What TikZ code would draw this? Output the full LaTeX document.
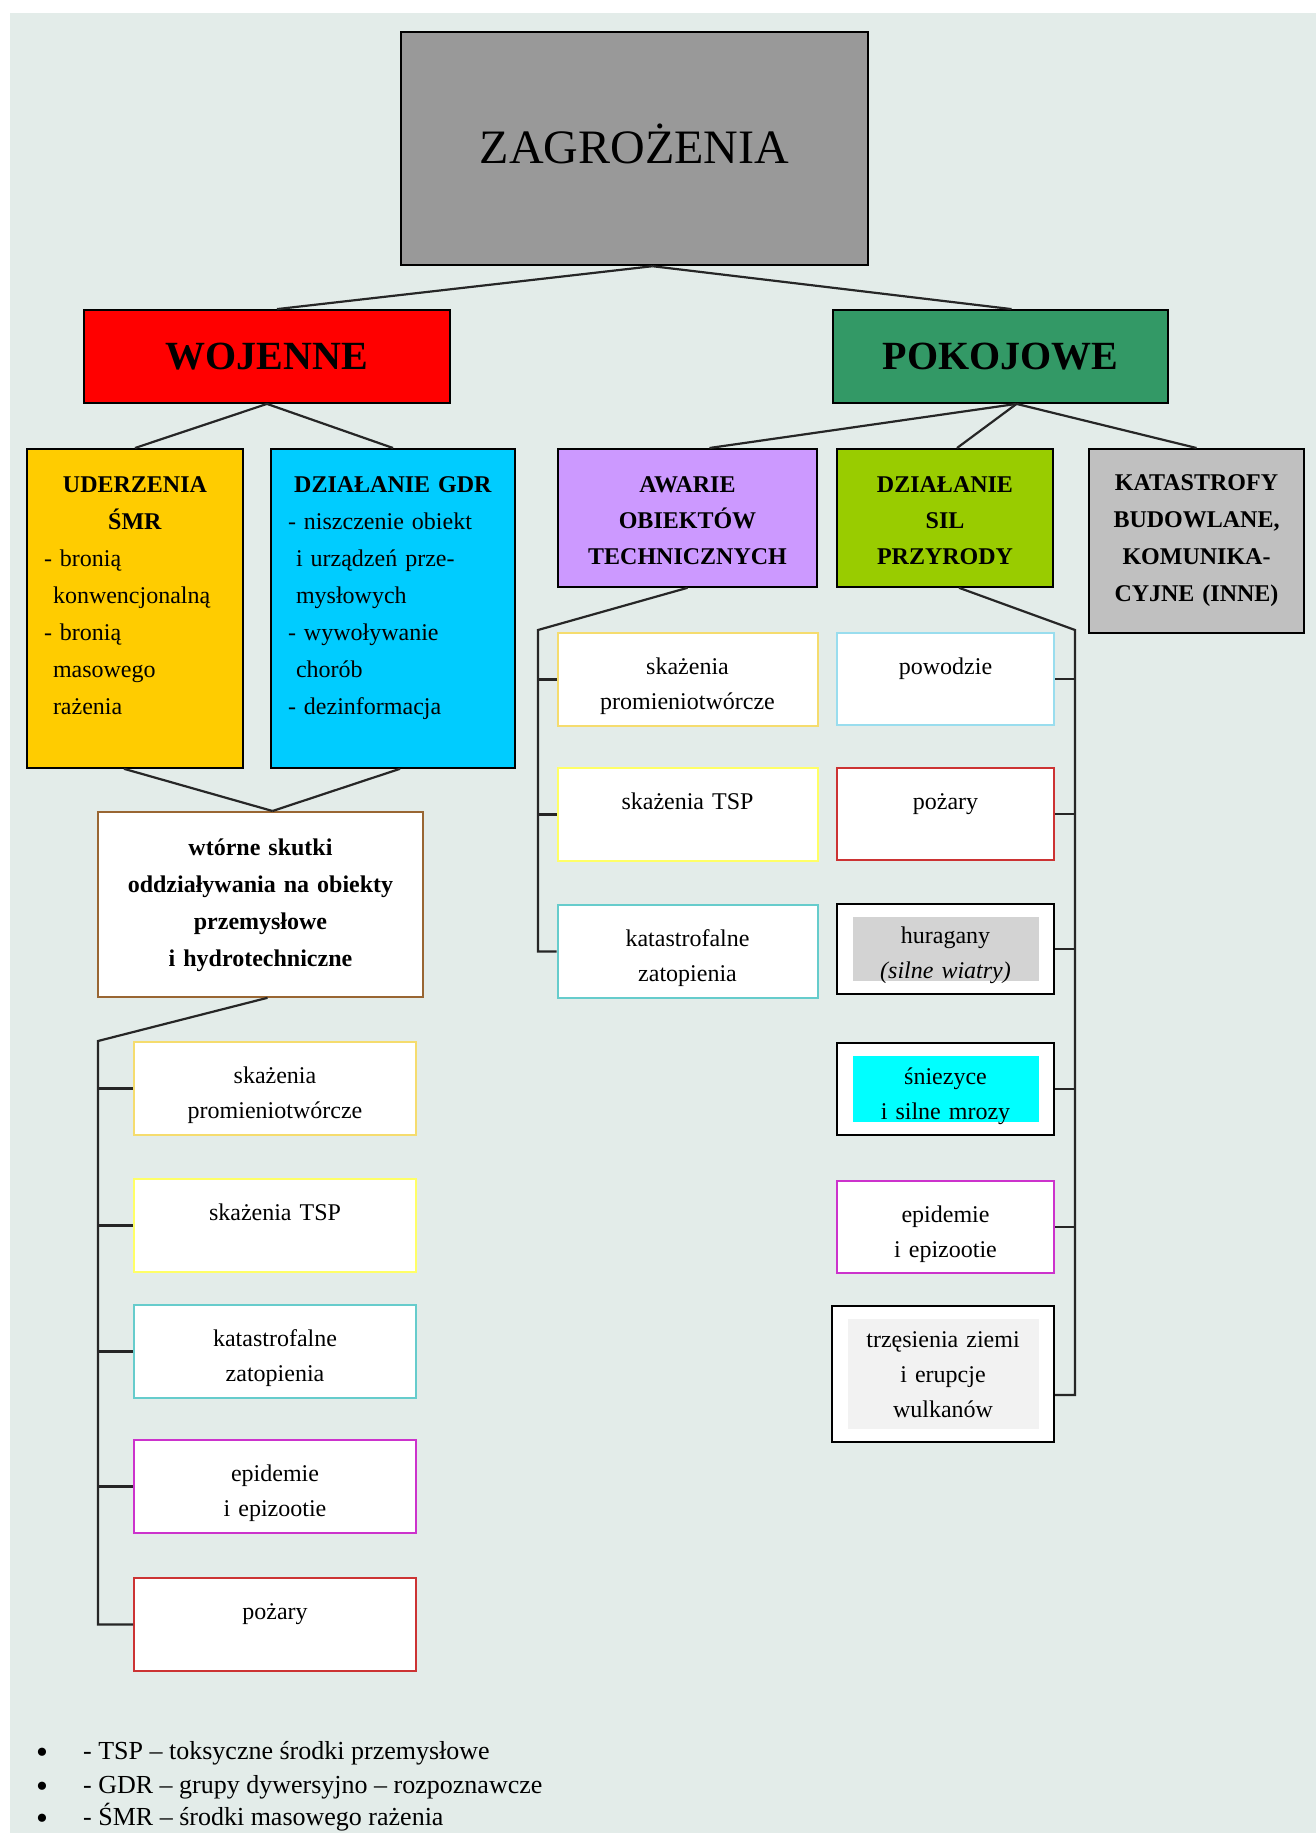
\documentclass[tikz,border=0pt]{standalone}
\usepackage{fontspec}
\setmainfont{Liberation Serif}

\definecolor{tlo}{RGB}{227,236,233}
\definecolor{zagcol}{RGB}{153,153,153}
\definecolor{pokcol}{RGB}{51,153,102}
\definecolor{smrcol}{RGB}{255,204,0}
\definecolor{gdrcol}{RGB}{0,204,255}
\definecolor{awcol}{RGB}{204,153,255}
\definecolor{silcol}{RGB}{153,204,0}
\definecolor{katcol}{RGB}{192,192,192}
\definecolor{wtcol}{RGB}{153,102,51}
\definecolor{promcol}{RGB}{245,220,110}
\definecolor{tspcol}{RGB}{255,255,102}
\definecolor{zatcol}{RGB}{102,204,204}
\definecolor{epicol}{RGB}{204,51,204}
\definecolor{pozcol}{RGB}{204,51,51}
\definecolor{powcol}{RGB}{153,221,238}
\definecolor{hurcol}{RGB}{211,211,211}
\definecolor{snicol}{RGB}{0,255,255}
\definecolor{trzcol}{RGB}{242,242,242}

\begin{document}
\begin{tikzpicture}[x=1pt, y=-1pt, align=center,
  conn/.style={draw=black!85, line width=2.2pt},
  head/.style={draw, line width=1.8pt},
  group/.style={draw, line width=1.8pt, inner sep=0pt, anchor=north, text height=44pt,
    font=\fontsize{24}{36}\selectfont\bfseries},
  leaf/.style={draw=#1, fill=white, line width=2pt, inner sep=0pt, anchor=north,
    text height=41pt, font=\fontsize{24}{35}\selectfont},
  lcol/.style={leaf=#1, minimum width=282pt, text width=262pt, text depth=52pt},
  mcol/.style={leaf=#1, minimum width=260pt, text width=240pt, text depth=52pt},
  rcol/.style={leaf=#1, minimum width=217pt, text width=197pt, text depth=51pt},
  inset/.style={path picture={\fill[#1] ([xshift=16pt,yshift=-13pt]path picture bounding box.north west)
    rectangle ([xshift=-15pt,yshift=13pt]path picture bounding box.south east);}},
  legend/.style={anchor=base west, inner sep=0pt, font=\fontsize{26}{30}\selectfont}]

\useasboundingbox (0,0) rectangle (1316,1833);
\fill[tlo] (10,13) rectangle (1316,1833);

\path (634.5,148.5) node[head, fill=zagcol, line width=2.4pt, minimum width=467pt, minimum height=233pt,
        text depth=10pt, font=\fontsize{48}{56}\selectfont] (zag) {ZAGROŻENIA}
      (267,356.5) node[head, fill=red, minimum width=366pt, minimum height=93pt,
        font=\fontsize{40}{48}\selectfont\bfseries] (woj) {WOJENNE}
      (1000.5,356.5) node[head, fill=pokcol, minimum width=335pt, minimum height=93pt,
        font=\fontsize{40}{48}\selectfont\bfseries] (pok) {POKOJOWE};

\path (135,448) node[group, fill=smrcol, minimum width=216pt, text width=182pt, text depth=275pt,
        align=left, font=\fontsize{24}{37}\selectfont] (smr)
        {{\centering\textbf{UDERZENIA}\\\textbf{ŚMR}\par}- bronią\\\hspace*{9pt}konwencjonalną\\- bronią\\
         \hspace*{9pt}masowego\\\hspace*{9pt}rażenia}
      (393,448) node[group, fill=gdrcol, minimum width=244pt, text width=210pt, text depth=275pt,
        align=left, font=\fontsize{24}{37}\selectfont] (gdr)
        {{\centering\textbf{DZIAŁANIE GDR}\par}- niszczenie obiekt\\\hspace*{8pt}i urządzeń prze-\\
         \hspace*{8pt}mysłowych\\- wywoływanie\\\hspace*{8pt}chorób\\- dezinformacja}
      (687.5,448) node[group, fill=awcol, minimum width=259pt, text width=240pt, text depth=94pt] (aw)
        {AWARIE\\OBIEKTÓW\\TECHNICZNYCH}
      (945,448) node[group, fill=silcol, minimum width=216pt, text width=200pt, text depth=94pt] (sil)
        {DZIAŁANIE\\SIL\\PRZYRODY}
      (1196.5,448) node[group, fill=katcol, minimum width=215pt, text width=200pt, text height=42pt,
        text depth=142pt, font=\fontsize{24}{37}\selectfont\bfseries] (kat)
        {KATASTROFY\\BUDOWLANE,\\KOMUNIKA-\\CYJNE (INNE)}
      (260.5,811) node[group, draw=wtcol, fill=white, minimum width=325pt, text width=305pt,
        text depth=141pt, font=\fontsize{24}{37}\selectfont\bfseries] (wt)
        {wtórne skutki\\oddziaływania na obiekty\\przemysłowe\\i hydrotechniczne};

\path (275,1041) node[lcol=promcol] (l1) {skażenia\\promieniotwórcze}
      (275,1178) node[lcol=tspcol] (l2) {skażenia TSP}
      (275,1304) node[lcol=zatcol] (l3) {katastrofalne\\zatopienia}
      (275,1439) node[lcol=epicol] (l4) {epidemie\\i epizootie}
      (275,1577) node[lcol=pozcol] (l5) {pożary};

\path (687.5,632) node[mcol=promcol] (m1) {skażenia\\promieniotwórcze}
      (687.5,767) node[mcol=tspcol] (m2) {skażenia TSP}
      (687.5,904) node[mcol=zatcol] (m3) {katastrofalne\\zatopienia};

\path (945.5,632) node[rcol=powcol] (r1) {powodzie}
      (945.5,767) node[rcol=pozcol] (r2) {pożary}
      (945.5,903) node[rcol=black, inset=hurcol, text height=39pt] (r3) {huragany\\\textit{(silne wiatry)}}
      (945.5,1042) node[rcol=black, inset=snicol] (r4) {śniezyce\\i silne mrozy}
      (945.5,1180) node[rcol=epicol] (r5) {epidemie\\i epizootie}
      (943,1305) node[rcol=black, inset=trzcol, minimum width=222pt, text depth=95pt] (r6)
        {trzęsienia ziemi\\i erupcje\\wulkanów};

\draw[conn] ([xshift=18pt]zag.south) to ([xshift=10pt]woj.north);
\draw[conn] ([xshift=18pt]zag.south) to ([xshift=11pt]pok.north);
\draw[conn] (woj.south) to (smr.north);
\draw[conn] (woj.south) to (gdr.north);
\draw[conn] ([xshift=16pt]pok.south) to ([xshift=22pt]aw.north);
\draw[conn] ([xshift=16pt]pok.south) to ([xshift=12pt]sil.north);
\draw[conn] ([xshift=16pt]pok.south) to (kat.north);
\draw[conn] ([xshift=-11pt]smr.south) to ([xshift=12pt]wt.north);
\draw[conn] ([xshift=7pt]gdr.south) to ([xshift=12pt]wt.north);

\coordinate (lbr) at (98,1041);
\coordinate (mbr) at (538,630);
\coordinate (rbr) at (1075,630);

\draw[conn] ([xshift=7pt]wt.south) -- (lbr) |- (l5.west);
\foreach \n in {l1,l2,l3,l4}
  \draw[conn] (\n.west) -- (\n.west -| lbr);
\draw[conn] (aw.south) -- (mbr) |- (m3.west);
\foreach \n in {m1,m2}
  \draw[conn] (\n.west) -- (\n.west -| mbr);
\draw[conn] ([xshift=14pt]sil.south) -- (rbr) |- ([yshift=-21pt]r6.east);
\foreach \n in {r1,r2,r3,r4,r5}
  \draw[conn] (\n.east) -- (\n.east -| rbr);

\path (36,1759) node[legend] (tsp)
        {\makebox[47pt][l]{\raisebox{-4pt}{\fontsize{34}{30}\selectfont•}}- TSP – toksyczne środki przemysłowe}
      (36,1793) node[legend] (gdrs)
        {\makebox[47pt][l]{\raisebox{-4pt}{\fontsize{34}{30}\selectfont•}}- GDR – grupy dywersyjno – rozpoznawcze}
      (36,1825) node[legend] (smrs)
        {\makebox[47pt][l]{\raisebox{-4pt}{\fontsize{34}{30}\selectfont•}}- ŚMR – środki masowego rażenia};

\end{tikzpicture}
\end{document}
